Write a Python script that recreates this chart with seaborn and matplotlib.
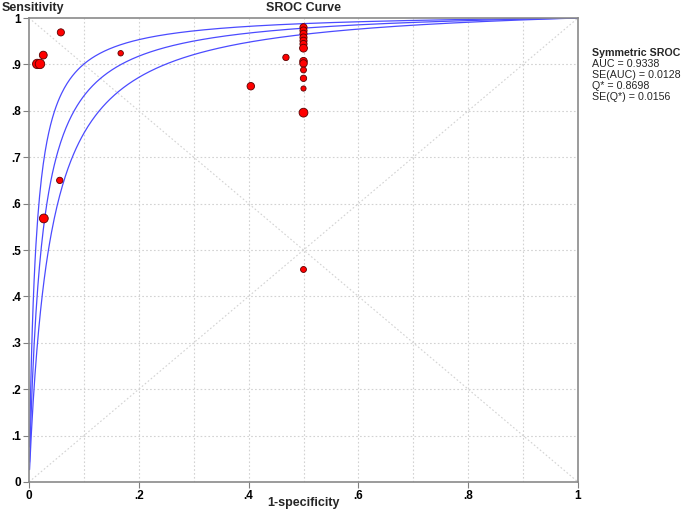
import numpy as np
import pandas as pd
import matplotlib
matplotlib.use("Agg")
import matplotlib.pyplot as plt
import seaborn as sns

# study points (1-specificity, sensitivity, marker size)
fpr = [0.058, 0.167, 0.026, 0.015, 0.020, 0.056, 0.027, 0.468, 0.404,
       0.5, 0.5, 0.5, 0.5, 0.5, 0.5, 0.5, 0.5, 0.5, 0.5, 0.5, 0.5, 0.5, 0.5]
tpr = [0.969, 0.924, 0.920, 0.901, 0.901, 0.650, 0.568, 0.915, 0.853,
       0.980, 0.973, 0.966, 0.958, 0.951, 0.944, 0.935, 0.907, 0.902,
       0.888, 0.870, 0.848, 0.796, 0.458]
wt = [20, 12, 24, 34, 34, 16, 30, 16, 22,
      20, 20, 20, 20, 20, 20, 24, 22, 22, 14, 16, 11, 30, 14]

# symmetric SROC summary (from the reference)
auc, se_auc = 0.9338, 0.0128
qstar, se_q = 0.8698, 0.0156

df = pd.DataFrame({"fpr": fpr, "tpr": tpr, "wt": wt})

sns.set_theme(style="white")
plt.rcParams["font.family"] = ["Liberation Sans", "DejaVu Sans"]

fig = plt.figure(figsize=(6.85, 5.11), dpi=100)
ax = fig.add_axes([29 / 685, 1 - 482 / 511, 549 / 685, 464 / 511])

# grid and diagonals
ticks = np.round(np.arange(0, 1.01, 0.1), 1)
for t in ticks[1:-1]:
    ax.axvline(t, color="#d2d2d2", lw=0.8, ls=(0, (1.5, 2)), zorder=0)
    ax.axhline(t, color="#d2d2d2", lw=0.8, ls=(0, (1.5, 2)), zorder=0)
ax.plot([0, 1], [1, 0], color="#d2d2d2", lw=0.8, ls=(0, (1.5, 2)), zorder=0)
ax.plot([0, 1], [0, 1], color="#d2d2d2", lw=0.8, ls=(0, (1.5, 2)), zorder=0)

# SROC curve and its limits, from Q* and SE(Q*)
x = np.linspace(0.001, 0.999, 600)
logit = lambda p: np.log(p / (1 - p))
for q in [qstar + 1.96 * se_q, qstar, qstar - 1.96 * se_q]:
    a = 2 * logit(q)
    y = 1 / (1 + np.exp(-(a + logit(x))))
    ax.plot(x, y, color="#4b4bff", lw=0.9, zorder=2)

sns.scatterplot(data=df, x="fpr", y="tpr", size="wt", sizes=(14, 46),
                color="#ff0000", edgecolor="#5a0000", linewidth=0.6,
                legend=False, zorder=3, ax=ax)

ax.set_xlim(0, 1)
ax.set_ylim(0, 1)
ax.set_xticks([0, 0.2, 0.4, 0.6, 0.8, 1])
ax.set_xticklabels(["0", ".2", ".4", ".6", ".8", "1"])
ax.set_yticks(ticks)
ax.set_yticklabels(["0"] + ["." + str(i) for i in range(1, 10)] + ["1"])
ax.tick_params(axis="both", labelsize=8.5, colors="#808080", labelcolor="black",
               length=4, width=0.8, direction="out", left=True, bottom=True, pad=2)
for lab in ax.get_xticklabels() + ax.get_yticklabels():
    lab.set_fontweight("bold")
for s in ax.spines.values():
    s.set_color("#8a8a8a")
    s.set_linewidth(1.2)
ax.set_xlabel("")
ax.set_ylabel("")

fig.text(2 / 685, 1 - 8 / 511, "Sensitivity", fontsize=9, fontweight="bold",
         va="center", ha="left")
fig.text(303 / 685, 1 - 8 / 511, "SROC Curve", fontsize=9, fontweight="bold",
         va="center", ha="center")
fig.text(303 / 685, 1 - 503 / 511, "1-specificity", fontsize=9, fontweight="bold",
         va="center", ha="center")

fig.text(592 / 685, 1 - 53 / 511, "Symmetric SROC", fontsize=7.7,
         fontweight="bold", va="center", ha="left")
info = [f"AUC = {auc:.4f}", f"SE(AUC) = {se_auc:.4f}",
        f"Q* = {qstar:.4f}", f"SE(Q*) = {se_q:.4f}"]
for i, s in enumerate(info):
    fig.text(592 / 685, 1 - (64 + 11 * i) / 511, s, fontsize=7.7,
             va="center", ha="left")

fig.savefig("out.png", dpi=100)
